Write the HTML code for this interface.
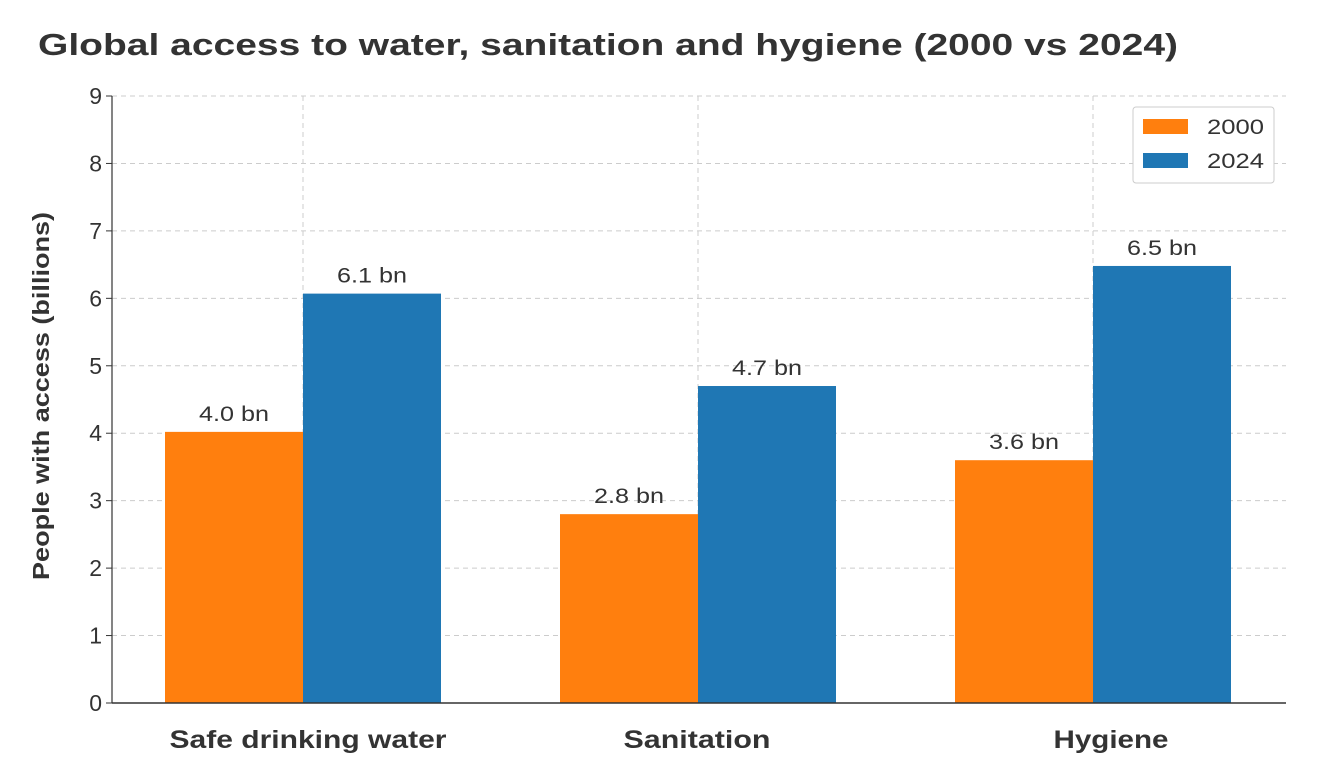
<!DOCTYPE html>
<html><head><meta charset="utf-8"><style>
html,body{margin:0;padding:0;background:#fff;}
svg{display:block;font-family:"Liberation Sans","DejaVu Sans",sans-serif;}
</style></head><body>
<svg id="chart" width="1328" height="778">
<text x="38" y="55" font-size="31" font-weight="bold" fill="#333" textLength="1140" lengthAdjust="spacingAndGlyphs">Global access to water, sanitation and hygiene (2000 vs 2024)</text>
<g id="grid"></g><g id="bars"></g><g id="axes"></g>
<text transform="translate(49,396) rotate(-90)" text-anchor="middle" font-size="23" font-weight="bold" fill="#333" textLength="368" lengthAdjust="spacingAndGlyphs">People with access (billions)</text>
<g>
<rect x="1133" y="107" width="141" height="76" fill="#fff" stroke="#ccc" rx="3"/>
<rect x="1143" y="119" width="45" height="15" fill="#ff7f0e"/>
<text x="1207" y="134" font-size="21" fill="#333" textLength="57" lengthAdjust="spacingAndGlyphs">2000</text>
<rect x="1143" y="153" width="45" height="15" fill="#1f77b4"/>
<text x="1207" y="168" font-size="21" fill="#333" textLength="57" lengthAdjust="spacingAndGlyphs">2024</text>
</g>
</svg>
<script>
const categories = ["Safe drinking water","Sanitation","Hygiene"];
const values2000 = [4.02,2.8,3.6];
const values2024 = [6.07,4.7,6.48];
const labels2000 = ["4.0 bn","2.8 bn","3.6 bn"];
const labels2024 = ["6.1 bn","4.7 bn","6.5 bn"];
const yTicks = [0,1,2,3,4,5,6,7,8,9];

const NS="http://www.w3.org/2000/svg";
const X0=112,X1=1286,Y0=703,Ytop=96,YMAX=9;
const y=v=>Y0-(v/YMAX)*(Y0-Ytop);
const cx=i=>303+i*395;
const BW=138;
const catLabelOffset=[5,-1,18];
const catLabelLen=[277,147,115];
function mk(p,tag,attrs,txt){const e=document.createElementNS(NS,tag);for(const k in attrs)e.setAttribute(k,attrs[k]);if(txt!==undefined)e.textContent=txt;p.appendChild(e);return e;}
const grid=document.getElementById('grid'),bars=document.getElementById('bars'),axes=document.getElementById('axes');
yTicks.forEach(t=>{
  const l=mk(grid,'line',{x1:X0,x2:X1,y1:y(t),y2:y(t),stroke:'#ccc','stroke-dasharray':'5,4','stroke-width':1});
  
  
  const tk=mk(axes,'line',{x1:X0-6,x2:X0,y1:y(t),y2:y(t),stroke:'#333'});
  
  
  const tx=mk(axes,'text',{x:X0-10,y:y(t)+8,'text-anchor':'end','font-size':23,fill:'#333'},String(t));
  
  
});
categories.forEach((c,i)=>{
  const g=mk(grid,'line',{x1:cx(i),x2:cx(i),y1:Ytop,y2:Y0,stroke:'#ccc','stroke-dasharray':'5,4'});
  
  
  const b1=mk(bars,'rect',{x:cx(i)-BW,y:y(values2000[i]),width:BW,height:Y0-y(values2000[i]),fill:'#ff7f0e'});
  
  
  const b2=mk(bars,'rect',{x:cx(i),y:y(values2024[i]),width:BW,height:Y0-y(values2024[i]),fill:'#1f77b4'});
  
  
  const l1=mk(bars,'text',{x:cx(i)-BW/2-35,y:y(values2000[i])-11,'font-size':21,fill:'#333',textLength:70,lengthAdjust:'spacingAndGlyphs'},labels2000[i]);
  
  
  const l2=mk(bars,'text',{x:cx(i)+BW/2-35,y:y(values2024[i])-11,'font-size':21,fill:'#333',textLength:70,lengthAdjust:'spacingAndGlyphs'},labels2024[i]);
  
  
  const xl=mk(axes,'text',{x:cx(i)+catLabelOffset[i]-catLabelLen[i]/2,y:748,'font-size':25,'font-weight':'bold',fill:'#333',textLength:catLabelLen[i],lengthAdjust:'spacingAndGlyphs'},c);
  
  
});
const ya=mk(axes,'line',{x1:X0,x2:X0,y1:Ytop,y2:Y0,stroke:'#333','stroke-width':1.2});


const xa=mk(axes,'line',{x1:X0,x2:X1,y1:Y0,y2:Y0,stroke:'#333','stroke-width':1.5});


</script>
</body></html>
